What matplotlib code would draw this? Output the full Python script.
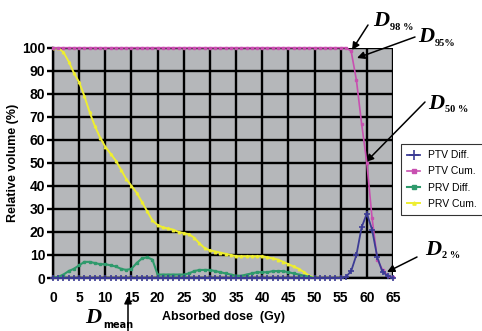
import numpy as np
import matplotlib
matplotlib.use("Agg")
import matplotlib.pyplot as plt

plt.rcParams['font.family'] = ['Liberation Sans', 'DejaVu Sans']

# ---- data ----
dose_ptv = list(range(0, 66))
ptv_diff = [0]*56 + [0.5, 3, 10, 22, 28, 21, 9, 2.5, 1, 0]
ptv_cum = [100]*57 + [98.5, 86, 67, 50, 26, 8, 3.5, 1, 0.3]

dose_prv = list(range(0, 51))
prv_diff = [0, 0.5, 1.5, 3, 4, 5.5, 7, 7, 6.5, 6, 6, 5.5, 5, 4, 3.5, 4, 6.5, 8.5, 9, 8,
            1.5, 1.5, 1.5, 1.5, 1.5, 1.5, 2, 3, 3.5, 3.5, 3.5, 3, 2.5, 2, 1.5, 1, 1, 1.5, 2, 2.5,
            2.5, 2.5, 3, 3, 3, 2.5, 2, 1.5, 1, 0.5, 0]
prv_cum = [100, 100, 98, 94, 89, 85, 79, 72, 66, 61, 57, 54, 51, 47, 43, 40, 37, 33, 29, 25,
           23, 22, 21.5, 21, 20, 19.5, 19, 17.5, 15, 13, 12, 11.5, 11, 10.5, 10, 9.5, 9.5, 9.5, 9.5, 9.5,
           9.5, 9, 8.5, 8, 7, 6, 5, 4, 2.5, 1, 0]

x_ticks = list(range(0, 70, 5))
y_ticks = list(range(0, 110, 10))
labels = ['PTV Diff.', 'PTV Cum.', 'PRV Diff.', 'PRV Cum.']

W, H = 482, 331
fig = plt.figure(figsize=(W/100, H/100), dpi=100)
ax = fig.add_axes([53/W, (H-278)/H, (393-53)/W, (278-47.7)/H])
ax.set_facecolor('#b5b7ba')
ax.set_xlim(0, 65)
ax.set_ylim(0, 100)
ax.set_xticks(x_ticks)
ax.set_yticks(y_ticks)
ax.grid(True, color='black', linewidth=1.7, zorder=1)
ax.set_axisbelow(True)
for s in ['top', 'right']:
    ax.spines[s].set_visible(False)
ax.spines['left'].set_linewidth(1.7)
ax.spines['bottom'].set_linewidth(1.7)
ax.tick_params(axis='x', length=0, pad=9, labelsize=10)
ax.tick_params(axis='y', length=4, width=1.7, pad=1.5, labelsize=10)
for t in ax.get_xticklabels() + ax.get_yticklabels():
    t.set_fontweight('bold')

c_ptvd = '#3b3b95'
c_ptvc = '#c850b0'
c_prvd = '#2f9a6c'
c_prvc = '#eeee30'

ax.plot(dose_prv, prv_cum, color=c_prvc, lw=1.4, marker='^', ms=1.8, zorder=3, label=labels[3])
ax.plot(dose_prv, prv_diff, color=c_prvd, lw=1.5, marker='s', ms=1.8, zorder=4, label=labels[2])
ax.plot(dose_ptv, ptv_cum, color=c_ptvc, lw=1.2, marker='s', ms=1.8, zorder=5, label=labels[1], clip_on=False)
ax.plot(dose_ptv, ptv_diff, color=c_ptvd, lw=1.3, marker='+', ms=5, mew=1.2, zorder=6, label=labels[0], clip_on=False)

ax.set_ylabel('Relative volume (%)', fontsize=9, fontweight='bold', labelpad=2)
ax.set_xlabel('Absorbed dose  (Gy)', fontsize=9, fontweight='bold', labelpad=5)

h, l = ax.get_legend_handles_labels()
order = [3, 2, 1, 0]
leg = fig.legend([h[i] for i in order], [l[i] for i in order],
                 loc='upper left', bbox_to_anchor=(401/W, (H-144)/H),
                 bbox_transform=fig.transFigure, fontsize=7.5, frameon=True,
                 fancybox=False, edgecolor='black', borderaxespad=0,
                 handlelength=1.2, handletextpad=0.8, labelspacing=0.6,
                 borderpad=0.6, markerscale=1.3)
leg.get_frame().set_linewidth(0.8)

def fp(x, y):
    return (x, H - y)

arrow = dict(arrowstyle='-|>', color='black', lw=1.1, mutation_scale=11, shrinkA=0, shrinkB=0)

serif_D = dict(family='Liberation Serif', weight='bold', style='italic', size=16)
serif_s = dict(family='Liberation Serif', weight='bold', size=7.5)

ann = [
    ('98 %', (368, 25), (352, 50), (373, 21)),
    ('95%', (415, 37), (357, 58), (418, 37)),
    ('50 %', (425, 102), (366, 162), (428, 104)),
    ('2 %', (417, 257), (387, 272), (425, 250)),
]
for sub, tail, head, tpos in ann:
    ax.annotate('', xy=fp(*head), xycoords='figure pixels', xytext=fp(*tail),
                textcoords='figure pixels', arrowprops=arrow, annotation_clip=False)
    fig.text(tpos[0]/W, (H - tpos[1])/H, 'D', ha='left', va='center', **serif_D)
    fig.text((tpos[0] + 17)/W, (H - tpos[1] - 6)/H, sub, ha='left', va='center', **serif_s)

ax.annotate('', xy=fp(128, 296), xycoords='figure pixels', xytext=fp(128, 333),
            textcoords='figure pixels', arrowprops=arrow, annotation_clip=False)
fig.text(85/W, (H - 318)/H, 'D', ha='left', va='center', **serif_D)
fig.text(103/W, (H - 325)/H, 'mean', ha='left', va='center',
         family='Liberation Sans Narrow', weight='bold', size=7)

fig.savefig('out.png', dpi=100)
